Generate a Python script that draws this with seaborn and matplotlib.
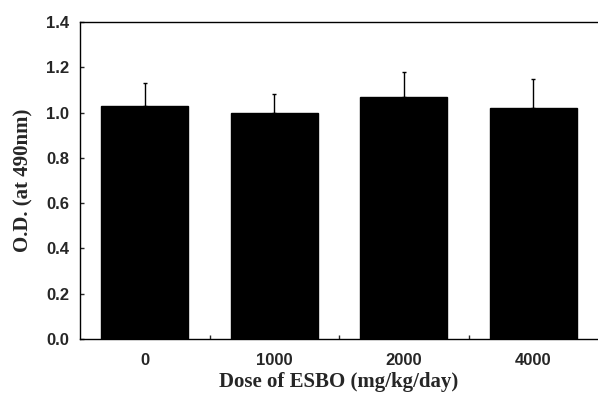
import numpy as np
import pandas as pd
import matplotlib
matplotlib.use("Agg")
import matplotlib.pyplot as plt
import seaborn as sns

doses = ["0", "1000", "2000", "4000"]
od_mean = [1.03, 1.00, 1.07, 1.02]
od_err = [0.10, 0.08, 0.11, 0.13]

df = pd.DataFrame({"dose": doses, "od": od_mean})

sns.set_style("ticks")
plt.rcParams["font.family"] = ["Liberation Sans", "DejaVu Sans"]

fig = plt.figure(figsize=(5.98, 3.99), dpi=100)
ax = fig.add_axes([0.1338, 0.1504, 0.8662, 0.7945])

sns.barplot(data=df, x="dose", y="od", color="black", width=0.67,
            saturation=1, errorbar=None, ax=ax)
for p in ax.patches:
    p.set_edgecolor("black")

xs = np.arange(len(doses))
ax.errorbar(xs, od_mean, yerr=[np.zeros(len(od_err)), od_err], fmt="none",
            ecolor="black", elinewidth=1, capsize=1.5, capthick=1)

ax.set_ylim(0, 1.4)
ax.set_xlim(-0.5, 3.5)
yt = np.arange(0, 1.41, 0.2)
ax.set_yticks(yt)
ax.set_yticklabels([f"{v:.1f}" for v in yt], fontsize=12, fontweight="bold")
ax.set_xticks(xs)
ax.set_xticklabels(doses, fontsize=12, fontweight="bold")
ax.set_xticks(xs[:-1] + 0.5, minor=True)
ax.tick_params(axis="x", which="major", length=0, pad=10)
ax.tick_params(axis="x", which="minor", direction="in", length=3, width=1)
ax.tick_params(axis="y", direction="in", length=3, width=1, pad=8)

for s in ["left", "bottom", "top"]:
    ax.spines[s].set_visible(True)
    ax.spines[s].set_linewidth(1)
    ax.spines[s].set_color("black")
ax.spines["right"].set_visible(False)

ax.set_xlabel("Dose of ESBO (mg/kg/day)", family="Liberation Serif",
              fontsize=15, fontweight="bold", labelpad=3)
ax.set_ylabel("O.D. (at 490nm)", family="Liberation Serif",
              fontsize=15, fontweight="bold", labelpad=9)

fig.savefig("out.png", dpi=100)
